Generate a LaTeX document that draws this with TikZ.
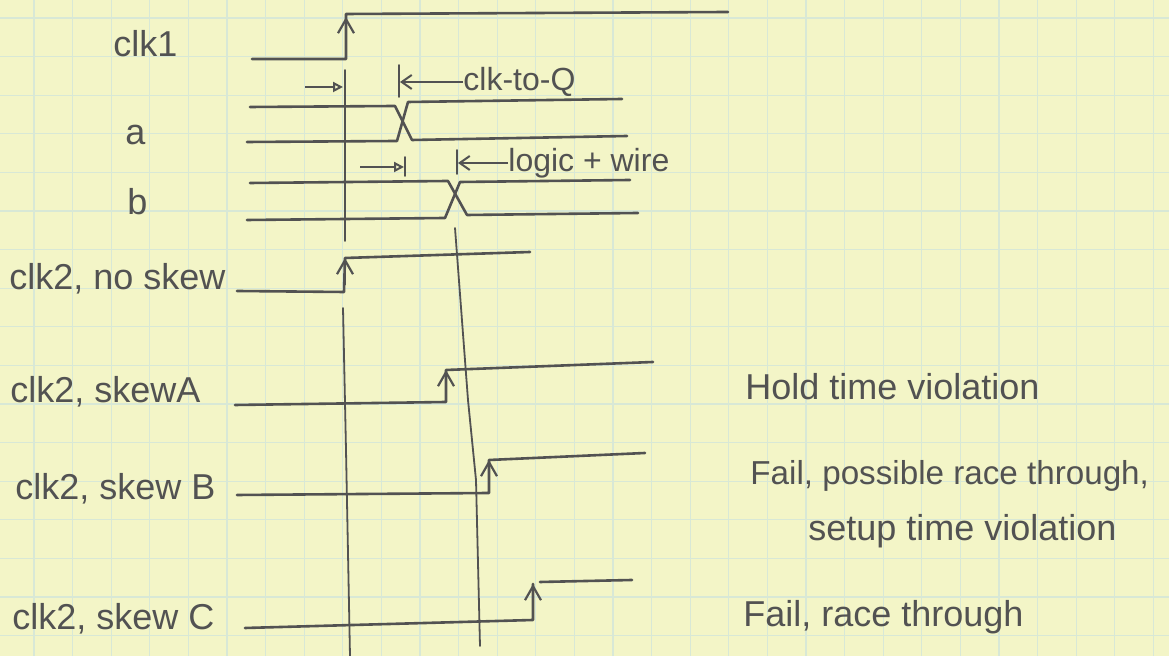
\documentclass[tikz,border=0pt]{standalone}
\usepackage{fontspec}
\setmainfont{Liberation Sans}
\usetikzlibrary{arrows.meta}
\definecolor{paper}{RGB}{243,245,199}
\definecolor{gridc}{RGB}{216,232,214}
\definecolor{pencil}{RGB}{82,82,82}
\begin{document}
\begin{tikzpicture}[x=0.5pt,y=-0.5pt,
  wave/.style={draw=pencil,line width=1.3pt,line join=round,line cap=round},
  guide/.style={draw=pencil,line width=0.9pt,line cap=round},
  edgetip/.style={draw=pencil,line width=1.2pt,-{Straight Barb[length=7pt,width=8pt,line width=1.1pt]}},
  rtip/.style={draw=pencil,line width=1pt,-{Triangle[open,length=5pt,width=5pt,line width=1pt]}},
  ltip/.style={draw=pencil,line width=1pt,-{Straight Barb[length=5pt,width=7pt,line width=1pt]}},
  lbl/.style={text=pencil,font=\fontsize{18}{20}\selectfont,inner sep=0pt,anchor=base west},
  sml/.style={text=pencil,font=\fontsize{16}{18}\selectfont,inner sep=0pt,anchor=west}]
\useasboundingbox (0,0) rectangle (1169,656);
\fill[paper] (0,0) rectangle (1169,656);
% grid
\foreach \i in {0,...,29} \draw[gridc,line width=0.6pt] ({34+38.6*\i},0) -- ({34+38.6*\i},656);
\foreach \j in {0,...,16} \draw[gridc,line width=0.6pt] (0,{18+38.6*\j}) -- (1169,{18+38.6*\j});

% labels left
\node[lbl] (lclk1) at (113,57) {clk1};
\node[lbl] (la) at (125,145) {a};
\node[lbl] (lb) at (127,215) {b};
\node[lbl] (ln) at (9,290) {clk2, no skew};
\node[lbl] (lA) at (10,403) {clk2, skewA};
\node[lbl] (lB) at (15,500) {clk2, skew B};
\node[lbl] (lC) at (12,630) {clk2, skew C};

% labels right
\node[lbl] (tA) at (745,400) {Hold time violation};
\node[lbl,font=\fontsize{16.6}{18}\selectfont] (tB1) at (750,485) {Fail, possible race through,};
\node[lbl] (tB2) at (808,541) {setup time violation};
\node[lbl] (tC) at (743,627) {Fail, race through};

% vertical reference lines
\draw[guide] (345,70) -- (345,241);
\draw[guide] (343,308) -- (346,450) -- (350,656);
\draw[guide] (455,228) -- (468,400) -- (476,480) -- (480,646);

% clk1
\draw[wave] (252,59) -- (346,59) -- (346,14) -- (728,12);
\draw[edgetip] (346,40) -- (346,17);

% a
\draw[wave] (247,142) -- (397,141) -- (408,102) -- (622,99);
\draw[wave] (250,107) -- (395,106) -- (412,140) -- (627,136);
% b
\draw[wave] (250,183) -- (448,181) -- (467,215) -- (638,213);
\draw[wave] (247,220) -- (445,218) -- (460,182) -- (630,180);

% clk-to-Q marker
\coordinate (s1) at (305,87);
\coordinate (e1) at (343,87);
\draw[rtip] (s1) -- (e1);
\coordinate (b1t) at (399,65);
\coordinate (b1b) at (399,97);
\draw[guide] (b1t) -- (b1b);
\node[sml] (cq) at (463,82) {clk-to-Q};
\draw[ltip] (cq.west) -- (400,82);

% logic + wire marker
\coordinate (s2) at (360,167);
\coordinate (e2) at (404,167);
\draw[rtip] (s2) -- (e2);
\coordinate (b2t) at (405,157);
\coordinate (b2b) at (405,176);
\draw[guide] (b2t) -- (b2b);
\coordinate (b3t) at (457,150);
\coordinate (b3b) at (457,174);
\draw[guide] (b3t) -- (b3b);
\node[sml] (lw) at (508,163) {logic + wire};
\draw[ltip] (lw.west) -- (458,163);

% clk2 no skew
\draw[wave] (237,291) -- (344,292) -- (345,258) -- (530,252);
\draw[edgetip] (345,285) -- (345,258);
% skew A
\draw[wave] (235,405) -- (446,402) -- (446,370) -- (653,362);
\draw[edgetip] (446,395) -- (446,370);
% skew B
\draw[wave] (237,495) -- (489,493) -- (489,460) -- (645,453);
\draw[edgetip] (489,485) -- (489,460);
% skew C
\draw[wave] (245,628) -- (533,620) -- (533,584);
\draw[wave] (540,582) -- (632,580);
\draw[edgetip] (533,610) -- (533,584);
\end{tikzpicture}
\end{document}
